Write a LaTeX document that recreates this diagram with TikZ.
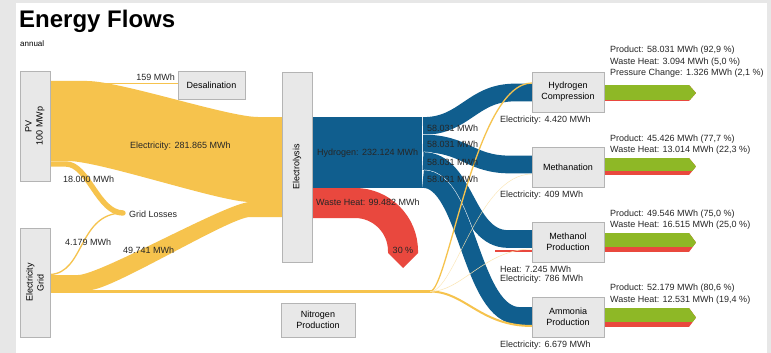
\documentclass[tikz,border=0pt]{standalone}
\usepackage{fontspec}
\setmainfont{Liberation Sans}

\definecolor{flowyellow}{RGB}{246,195,77}
\definecolor{flowblue}{RGB}{16,94,142}
\definecolor{flowred}{RGB}{233,72,62}
\definecolor{flowgreen}{RGB}{142,184,38}
\definecolor{boxfill}{RGB}{232,232,232}
\definecolor{boxline}{RGB}{180,180,180}
\definecolor{panelgray}{RGB}{231,231,231}

\tikzset{
    box/.style={draw=boxline, fill=boxfill, line width=0.7pt, align=center, inner sep=0pt,
        font=\fontsize{9}{11}\selectfont},
    yband/.style={draw=flowyellow, line width=#1},
    bband/.style={draw=flowblue, line width=17.7pt, preaction={draw=white, line width=18.7pt}},
    txt/.style={font=\fontsize{9}{11}\selectfont, inner sep=0pt, text=black!85},
}

% product arrow: top, end of green part, bottom
\newcommand{\productarrow}[3]{%
    \begin{scope}
        \clip (604,#1) -- (689,#1) -- (696,{(#1+#3)/2}) -- (689,#3) -- (604,#3) -- cycle;
        \fill[flowred] (604,#1) rectangle (697,#3);
        \fill[flowgreen] (604,#1) rectangle (697,#2);
    \end{scope}}

\begin{document}
\begin{tikzpicture}[x=1pt, y=-1pt]
        % Panel
        \fill[panelgray] (0,0) rectangle (771,353);
        \fill[white] (16,3) rectangle (767,353);
        \useasboundingbox (0,0) rectangle (771,353);

        % Title
        \node[anchor=base west, inner sep=0pt, font=\fontsize{24}{28}\selectfont\bfseries] (title) at (19,28) {Energy Flows};
        \node[anchor=west, inner sep=0pt, font=\fontsize{8}{9}\selectfont] (annual) at (20,44) {annual};

        % Electricity from PV
        \fill[flowyellow] (50,81) -- (87,81) .. controls (120,81) and (228,117) .. (258,117) -- (282,117)
            -- (282,202) -- (250,202) .. controls (220,202) and (100,161) .. (68,161) -- (50,161) -- cycle;
        \draw[yband=0.8pt] (87,83) -- (178,83);
        \draw[yband=5.4pt, line cap=round] (50,164) -- (66,164) .. controls (88,164) and (98,213) .. (123,213);

        % Electricity from the grid
        \fill[flowyellow] (50,275) -- (78,275) .. controls (100,275) and (228,202) .. (250,202) -- (282,202)
            -- (282,217) -- (250,217) .. controls (230,217) and (112,290) .. (90,290) -- (50,290) -- cycle;
        \draw[yband=1.3pt] (50,274.5) .. controls (85,273) and (78,213) .. (123,213);
        \draw[yband=2.5pt] (50,291.5) -- (432,291.5);

        % Hydrogen and waste heat from electrolysis
        \fill[flowblue] (312,117) rectangle (422,188);
        \draw[flowred, line width=30pt] (312,203) -- (355,203) .. controls (381.5,203) and (403,224.5) .. (403,251);
        \fill[flowred] (388,250) -- (418,250) -- (418,253) -- (403,268) -- (388,253) -- cycle;

        % Hydrogen to the four processes
        \draw[bband] (423,126) .. controls (465,126) and (472,92.5) .. (515,92.5) -- (532,92.5);
        \draw[bband] (423,143.5) .. controls (465,143.5) and (470,164.5) .. (510,164.5) -- (532,164.5);
        \draw[bband] (423,161) .. controls (466,161) and (465,239) .. (508,239) -- (532,239);
        \draw[bband] (423,179) .. controls (468,179) and (470,316) .. (520,316) -- (532,316);

        % Products and waste heat
        \productarrow{85}{99.5}{101}
        \productarrow{158}{171}{175}
        \productarrow{233}{247}{252}
        \productarrow{308}{322}{327}
        \draw[flowred, line width=2pt] (495,251) -- (532,251);

        % Electricity to the four processes
        \draw[yband=1.3pt] (430,291.5) .. controls (448,291.5) and (475,83) .. (532,83);
        \draw[yband=2pt] (430,291.5) .. controls (465,291.5) and (480,326) .. (532,326);
        \draw[flowyellow!45, line width=0.4pt] (430,291.5) .. controls (455,291.5) and (478,174) .. (532,174);
        \draw[flowyellow!45, line width=0.5pt] (430,291.5) .. controls (462,291.5) and (485,249) .. (532,249);

        % Boxes
        \node[box, rotate=90, minimum width=110pt, minimum height=30pt] (pv) at (35,126) {PV\\100 MWp};
        \node[box, rotate=90, minimum width=109pt, minimum height=30pt] (grid) at (35,282.5) {Electricity\\Grid};
        \node[box, minimum width=67pt, minimum height=28pt] (desal) at (211.5,85) {Desalination};
        \node[box, rotate=90, minimum width=190pt, minimum height=30pt] (elyso) at (297,167) {Electrolysis};
        \node[box, minimum width=74pt, minimum height=34pt] (nitro) at (318,320) {Nitrogen\\Production};
        \node[box, minimum width=72pt, minimum height=40pt] (hcomp) at (568,92) {Hydrogen\\Compression};
        \node[box, minimum width=72pt, minimum height=40pt] (meth) at (568,167) {Methanation};
        \node[box, minimum width=72pt, minimum height=40pt] (mol) at (568,242) {Methanol\\Production};
        \node[box, minimum width=72pt, minimum height=40pt] (nh3) at (568,317) {Ammonia\\Production};

        % Add labels on the flows
        \node[txt, anchor=east] (desalin) at (175,77) {159 MWh};
        \node[txt, anchor=west] (pvel) at (130,146) {Electricity: 281.865 MWh};
        \node[txt, anchor=west] (pvloss) at (63,179) {18.000 MWh};
        \node[txt, anchor=west] (losses) at (129,214) {Grid Losses};
        \node[txt, anchor=west] (gridloss) at (65,242) {4.179 MWh};
        \node[txt, anchor=west] (gridel) at (123,250) {49.741 MWh};
        \node[txt, anchor=west] (htwo) at (317,153) {Hydrogen: 232.124 MWh};
        \node[txt, anchor=west] (wheat) at (316,202) {Waste Heat: 99.482 MWh};
        \node[txt] (wshare) at (403,250) {30 \%};
        \node[txt, anchor=west] (split1) at (427,128) {58.031 MWh};
        \node[txt, anchor=west] (split2) at (427,144) {58.031 MWh};
        \node[txt, anchor=west] (split3) at (427,162) {58.031 MWh};
        \node[txt, anchor=west] (split4) at (427,179) {58.031 MWh};

        % Add labels at the processes
        \node[txt, anchor=west] (hcel) at (500,120) {Electricity: 4.420 MWh};
        \node[txt, anchor=west] (methel) at (500,195) {Electricity: 409 MWh};
        \node[txt, anchor=west] (molheat) at (500,269) {Heat: 7.245 MWh};
        \node[txt, anchor=west] (molel) at (500,279) {Electricity: 786 MWh};
        \node[txt, anchor=west] (nhel) at (500,345) {Electricity: 6.679 MWh};

        % Add labels at the products
        \node[txt, anchor=west] (hcprod) at (610,50) {Product: 58.031 MWh (92,9 \%)};
        \node[txt, anchor=west] (hcheat) at (610,62) {Waste Heat: 3.094 MWh (5,0 \%)};
        \node[txt, anchor=west] (hcpress) at (610,73) {Pressure Change: 1.326 MWh (2,1 \%)};
        \node[txt, anchor=west] (methprod) at (610,139) {Product: 45.426 MWh (77,7 \%)};
        \node[txt, anchor=west] (methheat) at (610,150) {Waste Heat: 13.014 MWh (22,3 \%)};
        \node[txt, anchor=west] (molprod) at (610,214) {Product: 49.546 MWh (75,0 \%)};
        \node[txt, anchor=west] (molwheat) at (610,225) {Waste Heat: 16.515 MWh (25,0 \%)};
        \node[txt, anchor=west] (nhprod) at (610,288) {Product: 52.179 MWh (80,6 \%)};
        \node[txt, anchor=west] (nhheat) at (610,300) {Waste Heat: 12.531 MWh (19,4 \%)};

\end{tikzpicture}
\end{document}
